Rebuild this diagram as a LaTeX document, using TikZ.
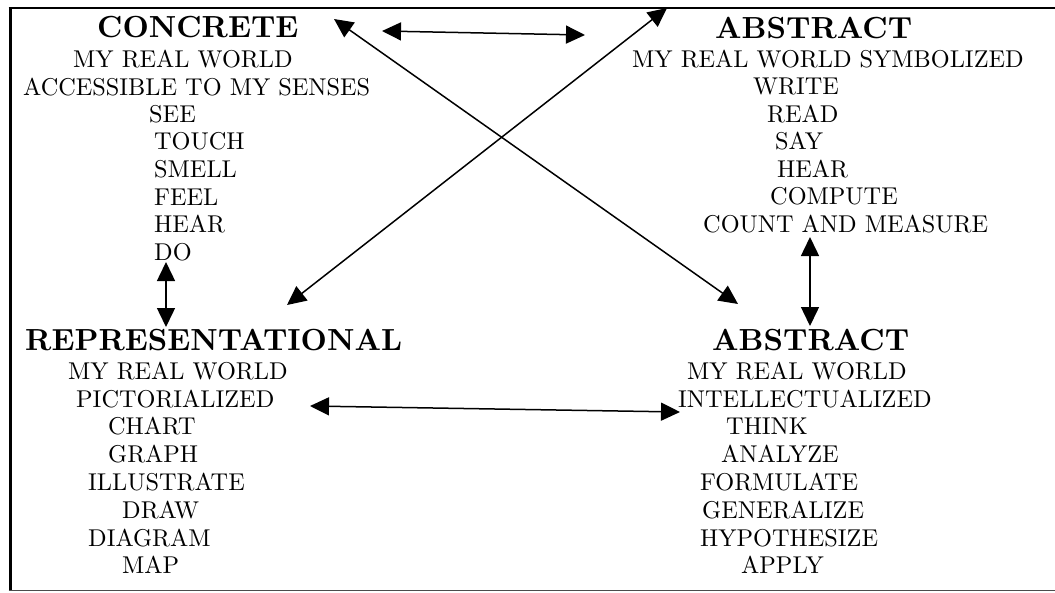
\documentclass[tikz,border=0pt]{standalone}
\usepackage{fontspec}
\setmainfont{lmroman10-regular.otf}[BoldFont=lmroman10-bold.otf]
\usetikzlibrary{arrows.meta}
\begin{document}
\begin{tikzpicture}[x=1pt,y=-1pt,
  txt/.style={anchor=base west,inner sep=0pt,font=\fontsize{24.3}{28}\selectfont},
  head/.style={anchor=base west,inner sep=0pt,font=\fontsize{30.5}{34}\selectfont\bfseries},
  link/.style={line width=1.5pt,{Triangle[length=19pt,width=18pt]}-{Triangle[length=19pt,width=18pt]}}]
\useasboundingbox (0,0) rectangle (1055,592);
% frame
\draw[line width=3pt] (10,7.5) -- (10,590.5);
\draw[line width=2.3pt] (8.5,7.8) -- (1055,7.8);
\draw[line width=1.5pt,black!70] (8.5,590.7) -- (1055,590.7);
% concrete
\node[head] (c0) at (97,37) {CONCRETE};
\node[txt] (c1) at (73,67) {MY REAL WORLD};
\node[txt] (c2) at (23,95) {ACCESSIBLE TO MY SENSES};
\node[txt] (c3) at (149,122) {SEE};
\node[txt] (c4) at (154,149) {TOUCH};
\node[txt] (c5) at (154,177) {SMELL};
\node[txt] (c6) at (154,205) {FEEL};
\node[txt] (c7) at (154,232) {HEAR};
\node[txt] (c8) at (154,260) {DO};
% abstract top
\node[head] (a0) at (715,38) {ABSTRACT};
\node[txt] (a1) at (632,67) {MY REAL WORLD SYMBOLIZED};
\node[txt] (a2) at (753,94) {WRITE};
\node[txt] (a3) at (767,122) {READ};
\node[txt] (a4) at (775,149) {SAY};
\node[txt] (a5) at (777,177) {HEAR};
\node[txt] (a6) at (770,204) {COMPUTE};
\node[txt] (a7) at (703,232) {COUNT AND MEASURE};
% representational
\node[head] (r0) at (25,350) {REPRESENTATIONAL};
\node[txt] (r1) at (68,379) {MY REAL WORLD};
\node[txt] (r2) at (76,407) {PICTORIALIZED};
\node[txt] (r3) at (108,434) {CHART};
\node[txt] (r4) at (108,462) {GRAPH};
\node[txt] (r5) at (88,490) {ILLUSTRATE};
\node[txt] (r6) at (122,518) {DRAW};
\node[txt] (r7) at (88,546) {DIAGRAM};
\node[txt] (r8) at (122,573) {MAP};
% abstract bottom
\node[head] (b0) at (712,350) {ABSTRACT};
\node[txt] (b1) at (687,379) {MY REAL WORLD};
\node[txt] (b2) at (678,407) {INTELLECTUALIZED};
\node[txt] (b3) at (726,434) {THINK};
\node[txt] (b4) at (721,462) {ANALYZE};
\node[txt] (b5) at (700,490) {FORMULATE};
\node[txt] (b6) at (702,518) {GENERALIZE};
\node[txt] (b7) at (700,546) {HYPOTHESIZE};
\node[txt] (b8) at (741,573) {APPLY};
% arrow end points
\coordinate (p1a) at (382,31);
\coordinate (p1b) at (585,35);
\coordinate (p2a) at (334,19);
\coordinate (p2b) at (738,304);
\coordinate (p3a) at (287,305);
\coordinate (p3b) at (667,8);
\coordinate (p4a) at (166,262);
\coordinate (p4b) at (166,327);
\coordinate (p5a) at (810,237);
\coordinate (p5b) at (810,326);
\coordinate (p6a) at (310,406);
\coordinate (p6b) at (680,412);
\draw[link] (p1a) -- (p1b);
\draw[link] (p2a) -- (p2b);
\draw[link] (p3a) -- (p3b);
\draw[link] (p4a) -- (p4b);
\draw[link] (p5a) -- (p5b);
\draw[link] (p6a) -- (p6b);
\end{tikzpicture}
\end{document}
